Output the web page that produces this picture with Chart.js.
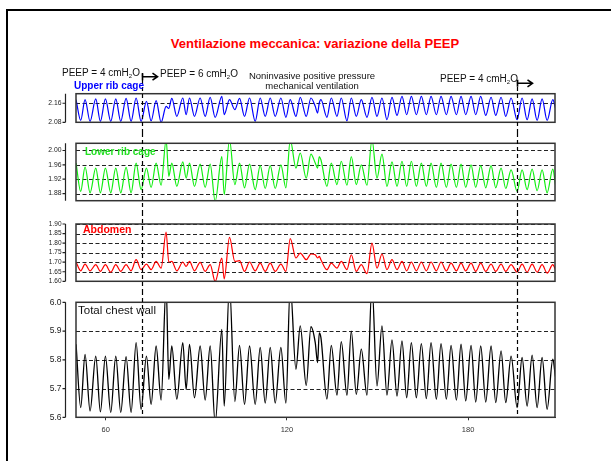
<!DOCTYPE html>
<html>
<head>
<meta charset="utf-8">
<script src="https://cdn.jsdelivr.net/npm/chart.js@4.4.1/dist/chart.umd.min.js"></script>
<style>
  body { margin: 0; background: #fff; }
  #wrap { position: relative; width: 611px; height: 461px; overflow: hidden; background: #fff;
          font-family: "Liberation Sans", Arial, sans-serif; }
  canvas { position: absolute; left: 0; }
  .t { position: absolute; white-space: nowrap; line-height: 1; z-index: 2; color: #111; }
  .t sub { font-size: 6px; vertical-align: -2px; line-height: 0; }
  .frame { position: absolute; background: #000; }
</style>
</head>
<body>
<div id="wrap">
  <div class="frame" style="left:6px;top:9px;width:2px;height:452px"></div>
  <div class="frame" style="left:6px;top:9px;width:605px;height:2px"></div>

  <canvas id="cU" width="611" height="73" style="top:60px"></canvas>
  <canvas id="cG" width="611" height="79" style="top:133px"></canvas>
  <canvas id="cR" width="611" height="79" style="top:212px"></canvas>
  <canvas id="cB" width="611" height="170" style="top:291px"></canvas>

  <div class="t" style="left:315px;top:37px;transform:translateX(-50%);font-size:13px;font-weight:bold;color:#ff0000">Ventilazione meccanica: variazione della PEEP</div>
  <div class="t" style="left:62px;top:68px;font-size:10px">PEEP = 4 cmH<sub>2</sub>O</div>
  <div class="t" style="left:160px;top:68.5px;font-size:10px">PEEP = 6 cmH<sub>2</sub>O</div>
  <div class="t" style="left:312px;top:70.7px;transform:translateX(-50%);font-size:9.5px;line-height:10px;text-align:center">Noninvasive positive pressure<br>mechanical ventilation</div>
  <div class="t" style="left:440px;top:73.5px;font-size:10px">PEEP = 4 cmH<sub>2</sub>O</div>

  <div class="t" style="left:74px;top:80.5px;font-size:10px;font-weight:bold;color:#0000ff">Upper rib cage</div>
  <div class="t" style="left:85px;top:147.2px;font-size:10px;font-weight:bold;color:#22e022">Lower rib cage</div>
  <div class="t" style="left:83px;top:223.6px;font-size:10.5px;font-weight:bold;color:#ff0000">Abdomen</div>
  <div class="t" style="left:78px;top:305.2px;font-size:11.5px;color:#111">Total chest wall</div>
</div>

<script>
// time (s) of each breath landmark, shared by all four traces
var timeSec = [50.17, 51.71, 53.15, 54.81, 56.69, 58.23, 59.89, 61.66, 63.32, 64.97,
               66.74, 68.40, 70.06, 71.71, 73.48, 75.03, 76.69, 78.34, 80.00, 80.88,
               81.88, 83.54, 85.53, 86.63, 87.74, 89.39, 91.27, 92.93, 94.59, 96.24,
               98.45, 99.23, 100.99, 102.76, 104.31, 105.97, 107.63, 109.50, 111.16, 112.82,
               114.48, 116.13, 118.01, 119.67, 121.11, 122.99, 124.42, 126.41, 127.96, 129.39,
               130.17, 130.72, 131.27, 133.26, 134.70, 136.58, 138.01, 139.89, 141.33, 142.99,
               144.64, 146.52, 148.18, 149.84, 151.49, 153.15, 154.81, 156.47, 158.12, 159.67,
               161.22, 162.88, 164.53, 166.19, 167.74, 169.51, 171.05, 172.82, 174.37, 176.14,
               177.68, 179.23, 181.00, 182.54, 184.20, 185.86, 187.63, 189.17, 190.94, 192.49,
               194.26, 196.25, 197.90, 199.56, 201.22, 202.88, 204.53, 206.19, 208.07, 208.95];

var upperRib = [2.175, 2.088, 2.175, 2.084, 2.178, 2.084, 2.178, 2.084, 2.178, 2.084,
                2.180, 2.084, 2.182, 2.084, 2.168, 2.086, 2.171, 2.080, 2.147, 2.138,
                2.180, 2.105, 2.182, 2.112, 2.182, 2.105, 2.182, 2.105, 2.185, 2.101,
                2.189, 2.112, 2.175, 2.133, 2.180, 2.105, 2.182, 2.084, 2.182, 2.105,
                2.182, 2.105, 2.182, 2.101, 2.175, 2.105, 2.185, 2.105, 2.182, 2.147,
                2.119, 2.161, 2.175, 2.101, 2.182, 2.105, 2.182, 2.086, 2.182, 2.105,
                2.175, 2.101, 2.185, 2.105, 2.182, 2.091, 2.185, 2.109, 2.189, 2.112,
                2.189, 2.112, 2.189, 2.112, 2.189, 2.112, 2.189, 2.112, 2.189, 2.112,
                2.189, 2.112, 2.189, 2.112, 2.189, 2.109, 2.185, 2.109, 2.185, 2.105,
                2.182, 2.091, 2.182, 2.091, 2.178, 2.088, 2.178, 2.088, 2.175, 2.140];

var lowerRib = [1.965, 1.886, 1.954, 1.882, 1.951, 1.882, 1.951, 1.882, 1.951, 1.882,
                1.953, 1.882, 1.965, 1.891, 1.951, 1.897, 1.965, 1.903, 2.030, 1.928,
                1.965, 1.900, 1.968, 1.923, 1.965, 1.900, 1.962, 1.897, 1.962, 1.858,
                1.983, 1.877, 2.030, 1.905, 1.965, 1.896, 1.962, 1.891, 1.958, 1.894,
                1.958, 1.894, 1.960, 1.896, 2.030, 1.951, 1.993, 1.923, 1.990, 1.965,
                1.951, 1.983, 1.974, 1.900, 1.965, 1.905, 1.970, 1.903, 1.983, 1.905,
                1.960, 1.903, 2.030, 1.923, 1.990, 1.900, 1.968, 1.900, 1.970, 1.900,
                1.970, 1.900, 1.965, 1.900, 1.965, 1.897, 1.965, 1.897, 1.962, 1.897,
                1.962, 1.897, 1.960, 1.897, 1.958, 1.896, 1.958, 1.896, 1.951, 1.894,
                1.946, 1.886, 1.946, 1.891, 1.948, 1.888, 1.946, 1.882, 1.948, 1.905];

var abdomen = [1.701, 1.655, 1.690, 1.655, 1.687, 1.652, 1.687, 1.648, 1.687, 1.652,
               1.687, 1.655, 1.713, 1.661, 1.690, 1.661, 1.704, 1.669, 1.858, 1.701,
               1.704, 1.655, 1.701, 1.678, 1.704, 1.655, 1.699, 1.652, 1.687, 1.598,
               1.722, 1.613, 1.830, 1.704, 1.708, 1.652, 1.701, 1.655, 1.695, 1.652,
               1.695, 1.652, 1.690, 1.652, 1.823, 1.722, 1.748, 1.713, 1.743, 1.739,
               1.722, 1.730, 1.713, 1.661, 1.695, 1.669, 1.704, 1.661, 1.739, 1.652,
               1.687, 1.640, 1.800, 1.669, 1.743, 1.661, 1.713, 1.661, 1.704, 1.655,
               1.701, 1.655, 1.701, 1.655, 1.701, 1.655, 1.701, 1.655, 1.695, 1.655,
               1.695, 1.655, 1.695, 1.652, 1.695, 1.652, 1.690, 1.652, 1.690, 1.652,
               1.687, 1.648, 1.690, 1.648, 1.690, 1.648, 1.687, 1.643, 1.687, 1.661];

var chestWall = [5.854, 5.634, 5.819, 5.622, 5.813, 5.619, 5.813, 5.617, 5.813, 5.617,
                 5.811, 5.617, 5.860, 5.628, 5.813, 5.645, 5.848, 5.660, 6.060, 5.732,
                 5.848, 5.663, 5.860, 5.697, 5.854, 5.668, 5.848, 5.660, 5.848, 5.580,
                 5.906, 5.639, 6.060, 5.655, 5.850, 5.645, 5.848, 5.645, 5.843, 5.649,
                 5.843, 5.649, 5.843, 5.649, 6.060, 5.767, 5.918, 5.711, 5.915, 5.860,
                 5.790, 5.894, 5.877, 5.663, 5.850, 5.677, 5.863, 5.677, 5.900, 5.680,
                 5.837, 5.677, 6.060, 5.709, 5.918, 5.677, 5.869, 5.674, 5.866, 5.668,
                 5.860, 5.668, 5.856, 5.665, 5.860, 5.663, 5.856, 5.663, 5.850, 5.660,
                 5.854, 5.657, 5.850, 5.653, 5.848, 5.653, 5.848, 5.651, 5.831, 5.651,
                 5.813, 5.634, 5.808, 5.639, 5.816, 5.634, 5.808, 5.628, 5.802, 5.741];

// axis ticks and dashed reference lines of each panel
var upperTicks = [2.08, 2.16];
var upperGrid = [2.08, 2.16];
var lowerTicks = [1.88, 1.92, 1.96, 2.00];
var lowerGrid = [1.88, 1.92, 1.96, 2.00];
var abdTicks = [1.60, 1.65, 1.70, 1.75, 1.80, 1.85, 1.90];
var abdGrid = [1.65, 1.70, 1.75, 1.80, 1.85, 1.90];
var chestTicks = [5.6, 5.7, 5.8, 5.9, 6.0];
var chestGrid = [5.6, 5.7, 5.8, 5.9];
var timeTicks = [60, 120, 180];

// PEEP changes (s)
var peepChangeSec = [71.9, 196.1];

var FONT = '"Liberation Sans", Arial, sans-serif';
var X_MIN = 50.15, X_MAX = 208.8;

function decor(p) {
    return {
        id: 'decor',
        beforeDatasetsDraw: function(chart) {
            var ctx = chart.ctx, a = chart.chartArea, y = chart.scales.y;
            ctx.save();
            ctx.strokeStyle = '#222';
            ctx.lineWidth = 1;
            ctx.setLineDash([4, 2.5]);
            p.grid.forEach(function(v) {
                var py = Math.round(y.getPixelForValue(v)) + 0.5;
                ctx.beginPath();
                ctx.moveTo(a.left, py);
                ctx.lineTo(a.right, py);
                ctx.stroke();
            });
            ctx.restore();
        },
        afterDatasetsDraw: function(chart) {
            var ctx = chart.ctx, a = chart.chartArea, y = chart.scales.y, x = chart.scales.x;
            ctx.save();
            // panel box
            ctx.strokeStyle = '#333';
            ctx.lineWidth = 1.5;
            ctx.strokeRect(a.left, a.top, a.right - a.left, a.bottom - a.top);
            // separate y spine with ticks
            ctx.lineWidth = 1.2;
            ctx.strokeStyle = '#222';
            ctx.beginPath();
            ctx.moveTo(65.5, a.top);
            ctx.lineTo(65.5, a.bottom);
            y.ticks.forEach(function(t) {
                var py = y.getPixelForValue(t.value);
                ctx.moveTo(62.5, py);
                ctx.lineTo(65.5, py);
            });
            ctx.stroke();
            // PEEP change lines
            ctx.lineWidth = 1.2;
            ctx.strokeStyle = '#000';
            ctx.setLineDash([4, 3]);
            peepChangeSec.forEach(function(t, i) {
                var px = Math.round(x.getPixelForValue(t)) + 0.5;
                var y0 = p.lineFrom ? p.lineFrom[i] : 0;
                var y1 = p.lineToArea ? a.bottom : chart.height;
                ctx.beginPath();
                ctx.moveTo(px, y0);
                ctx.lineTo(px, y1);
                ctx.stroke();
            });
            ctx.setLineDash([]);
            // arrows above the first panel
            if (p.arrows) {
                ctx.lineWidth = 1.6;
                peepChangeSec.forEach(function(t, i) {
                    var px = Math.round(x.getPixelForValue(t)) + 0.5;
                    var ay = p.arrows[i], len = 15;
                    ctx.beginPath();
                    ctx.moveTo(px, ay - 3.5);
                    ctx.lineTo(px, ay + 3.5);
                    ctx.moveTo(px, ay);
                    ctx.lineTo(px + len, ay);
                    ctx.moveTo(px + len - 5, ay - 3.5);
                    ctx.lineTo(px + len, ay);
                    ctx.lineTo(px + len - 5, ay + 3.5);
                    ctx.stroke();
                });
            }
            ctx.restore();
        }
    };
}

function makePanel(p) {
    var pts = timeSec.map(function(t, i) { return {x: t, y: p.values[i]}; });
    return new Chart(document.getElementById(p.id).getContext('2d'), {
        type: 'line',
        data: {
            datasets: [{
                data: pts,
                borderColor: p.color,
                borderWidth: p.width,
                pointRadius: 0,
                fill: false,
                cubicInterpolationMode: 'monotone'
            }]
        },
        options: {
            responsive: false,
            animation: false,
            events: [],
            layout: { padding: { left: 0, right: 56, top: p.padTop, bottom: p.padBottom } },
            plugins: { legend: { display: false }, tooltip: { enabled: false } },
            scales: {
                x: {
                    type: 'linear',
                    min: X_MIN,
                    max: X_MAX,
                    display: p.showX,
                    afterBuildTicks: function(s) { s.ticks = timeTicks.map(function(v) { return {value: v}; }); },
                    afterFit: function(s) { s.height = p.showX ? 20 : 0; },
                    grid: { display: true, drawOnChartArea: false, drawTicks: true, tickLength: 3, color: '#333' },
                    border: { display: true, color: '#333', width: 1 },
                    ticks: { padding: 5, maxRotation: 0, autoSkip: false, color: '#333',
                             font: { family: FONT, size: 7.5 } }
                },
                y: {
                    min: p.min,
                    max: p.max,
                    afterFit: function(s) {
                        s.width = 76;
                        // keep the label overhang from pushing the plot area
                        s.paddingTop = 3;
                        s.paddingBottom = 3;
                    },
                    afterBuildTicks: function(s) { s.ticks = p.ticks.map(function(v) { return {value: v}; }); },
                    grid: { display: false, drawTicks: false },
                    border: { display: false },
                    ticks: {
                        padding: 14.5,
                        autoSkip: false,
                        color: '#222',
                        font: { family: FONT, size: p.tickSize },
                        callback: function(v) { return Number(v).toFixed(p.dec); }
                    }
                }
            }
        },
        plugins: [decor(p)]
    });
}

makePanel({ id: 'cU', values: upperRib, color: '#0000ff', width: 1.2, min: 2.08, max: 2.20,
            ticks: upperTicks, grid: upperGrid, dec: 2, tickSize: 6.8,
            padTop: 33.7, padBottom: 10.7, showX: false, lineFrom: [13, 20], arrows: [16.7, 23.3] });
makePanel({ id: 'cG', values: lowerRib, color: '#11ee11', width: 1.2, min: 1.86, max: 2.02,
            ticks: lowerTicks, grid: lowerGrid, dec: 2, tickSize: 6.8,
            padTop: 10.3, padBottom: 11.3, showX: false });
makePanel({ id: 'cR', values: abdomen, color: '#ff0000', width: 1.2, min: 1.60, max: 1.90,
            ticks: abdTicks, grid: abdGrid, dec: 2, tickSize: 6.5,
            padTop: 12, padBottom: 9.7, showX: false });
makePanel({ id: 'cB', values: chestWall, color: '#000000', width: 1.3, min: 5.6, max: 6.0,
            ticks: chestTicks, grid: chestGrid, dec: 1, tickSize: 8.5,
            padTop: 11.3, padBottom: 23.7, showX: true, lineToArea: true });
</script>
</body>
</html>
